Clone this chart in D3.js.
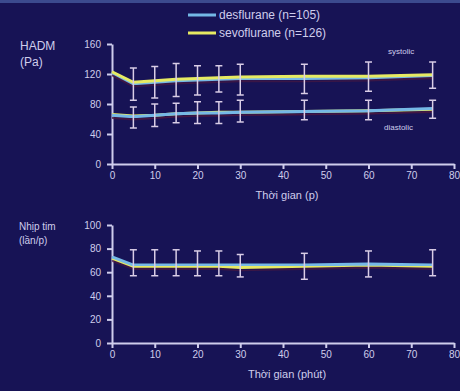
<!DOCTYPE html>
<html>
<head>
<meta charset="utf-8">
<script src="https://cdn.jsdelivr.net/npm/d3@7"></script>
<style>
  html, body { margin: 0; padding: 0; background: #171355; }
  svg { display: block; font-family: "Liberation Sans", Arial, sans-serif; }
</style>
</head>
<body>
<svg id="chart" width="460" height="391"></svg>
<script>
// Time points (minutes)
const times = [0, 5, 10, 15, 20, 25, 30, 45, 60, 75];
const barTimes = [5, 10, 15, 20, 25, 30, 45, 60, 75];

// Blood pressure (HADM)
const systolicDes  = [122, 107, 109, 111, 112, 113, 114, 114, 115, 118];
const systolicSevo = [123, 109, 111, 113, 114, 115, 116, 117, 117, 119];
const systolicHi   = [128, 130, 134, 131, 131, 133, 133, 136, 136];
const systolicLo   = [85, 88, 90, 92, 96, 92, 94, 97, 101];

const diastolicDes  = [65, 63, 65, 67, 68, 68, 69, 70, 71, 74];
const diastolicSevo = [66, 64, 65, 67, 68, 69, 69, 70, 71, 73];
const diastolicHi   = [76, 80, 81, 83, 83, 85, 85, 85, 85];
const diastolicLo   = [48, 50, 55, 54, 54, 56, 59, 59, 61];

// Heart rate (Nhịp tim)
const hrDes  = [73, 66, 66, 66, 66, 66, 66, 66, 67, 66];
const hrSevo = [72, 65, 65, 65, 65, 65, 64, 65, 66, 65];
const hrHi   = [79, 79, 79, 78, 78, 75, 76, 78, 79];
const hrLo   = [57, 57, 57, 57, 57, 56, 54, 56, 57];

const xTicks = [0, 10, 20, 30, 40, 50, 60, 70, 80];
const bpTicks = [0, 40, 80, 120, 160];
const hrTicks = [0, 20, 40, 60, 80, 100];

const seriesNames = ["desflurane (n=105)", "sevoflurane (n=126)"];
const colDes = "#74b8e6", colSevo = "#e6ea62";
const fg = "#cfcdec", barCol = "#d9cde6";

const svg = d3.select("#chart");

// thin lighter band along the top edge
svg.append("rect").attr("x", 0).attr("y", 0).attr("width", 460).attr("height", 3).attr("fill", "#3b4a8e");

const defs = svg.append("defs");
defs.append("filter").attr("id", "glow")
  .append("feGaussianBlur").attr("stdDeviation", 0.6);

const x = d3.scaleLinear().domain([0, 80]).range([112, 454]);

function panel(yDomain, yRange, yTicks, lines, bars, xLabel) {
  const y = d3.scaleLinear().domain(yDomain).range(yRange);
  const g = svg.append("g");

  const xAxis = g.append("g").attr("transform", `translate(0,${yRange[0]})`)
    .call(d3.axisBottom(x).tickValues(xTicks).tickSize(5).tickPadding(3).tickSizeOuter(0));
  const yAxis = g.append("g").attr("transform", `translate(${x(0)},0)`)
    .call(d3.axisLeft(y).tickValues(yTicks).tickSize(5).tickPadding(6).tickSizeOuter(0));
  [xAxis, yAxis].forEach(a => {
    a.selectAll("path, line").attr("stroke", fg).attr("stroke-width", 2);
    a.selectAll("text").attr("fill", fg).attr("font-size", 10).attr("font-family", "Liberation Sans, Arial, sans-serif");
  });

  g.append("text").attr("x", (x(0) + x(80)) / 2 + 4).attr("y", yRange[0] + 35)
    .attr("text-anchor", "middle").attr("fill", fg).attr("font-size", 11).text(xLabel);

  const line = d3.line().x((d, i) => x(times[i])).y(d => y(d));

  lines.forEach(l => {
    // faint dark-red shadow under each trace
    g.append("path").datum(l.values).attr("d", line).attr("fill", "none")
      .attr("stroke", "#4a1840").attr("stroke-width", 1.5).attr("opacity", 0.7)
      .attr("transform", "translate(0,3)");
  });
  lines.forEach(l => {
    g.append("path").datum(l.values).attr("d", line).attr("fill", "none")
      .attr("stroke", l.color).attr("stroke-width", 3).attr("filter", "url(#glow)");
  });

  bars.forEach(b => {
    const eg = g.append("g").attr("stroke", barCol).attr("stroke-width", 1.5);
    barTimes.forEach((t, i) => {
      const cx = x(t);
      eg.append("line").attr("x1", cx).attr("x2", cx).attr("y1", y(b.hi[i])).attr("y2", y(b.lo[i]));
      eg.append("line").attr("x1", cx - 3.5).attr("x2", cx + 3.5).attr("y1", y(b.hi[i])).attr("y2", y(b.hi[i]));
      eg.append("line").attr("x1", cx - 3.5).attr("x2", cx + 3.5).attr("y1", y(b.lo[i])).attr("y2", y(b.lo[i]));
    });
  });
  return { g, y };
}

const bpPanel = panel([0, 160], [164, 44], bpTicks,
  [{ values: systolicDes, color: colDes }, { values: systolicSevo, color: colSevo },
   { values: diastolicSevo, color: colSevo }, { values: diastolicDes, color: colDes }],
  [{ hi: systolicHi, lo: systolicLo }, { hi: diastolicHi, lo: diastolicLo }],
  "Thời gian (p)");

bpPanel.g.append("text").attr("x", 388).attr("y", 54).attr("fill", fg).attr("font-size", 8).text("systolic");
bpPanel.g.append("text").attr("x", 384).attr("y", 130).attr("fill", fg).attr("font-size", 8).text("diastolic");

const hrPanel = panel([0, 100], [343, 225], hrTicks,
  [{ values: hrSevo, color: colSevo }, { values: hrDes, color: colDes }],
  [{ hi: hrHi, lo: hrLo }],
  "Thời gian (phút)");

// y-axis titles
svg.append("text").attr("x", 20).attr("y", 50).attr("fill", fg).attr("font-size", 12).text("HADM");
svg.append("text").attr("x", 20).attr("y", 66).attr("fill", fg).attr("font-size", 12).text("(Pa)");
svg.append("text").attr("x", 19).attr("y", 230).attr("fill", fg).attr("font-size", 10).text("Nhịp tim");
svg.append("text").attr("x", 19).attr("y", 244).attr("fill", fg).attr("font-size", 10).text("(lần/p)");

// legend
const legend = svg.append("g");
[colDes, colSevo].forEach((c, i) => {
  const ly = 15 + i * 18;
  legend.append("line").attr("x1", 188).attr("x2", 216).attr("y1", ly).attr("y2", ly)
    .attr("stroke", c).attr("stroke-width", 3);
  legend.append("text").attr("x", 219).attr("y", ly + 4).attr("fill", fg)
    .attr("font-size", 12).text(seriesNames[i]);
});
</script>
</body>
</html>
